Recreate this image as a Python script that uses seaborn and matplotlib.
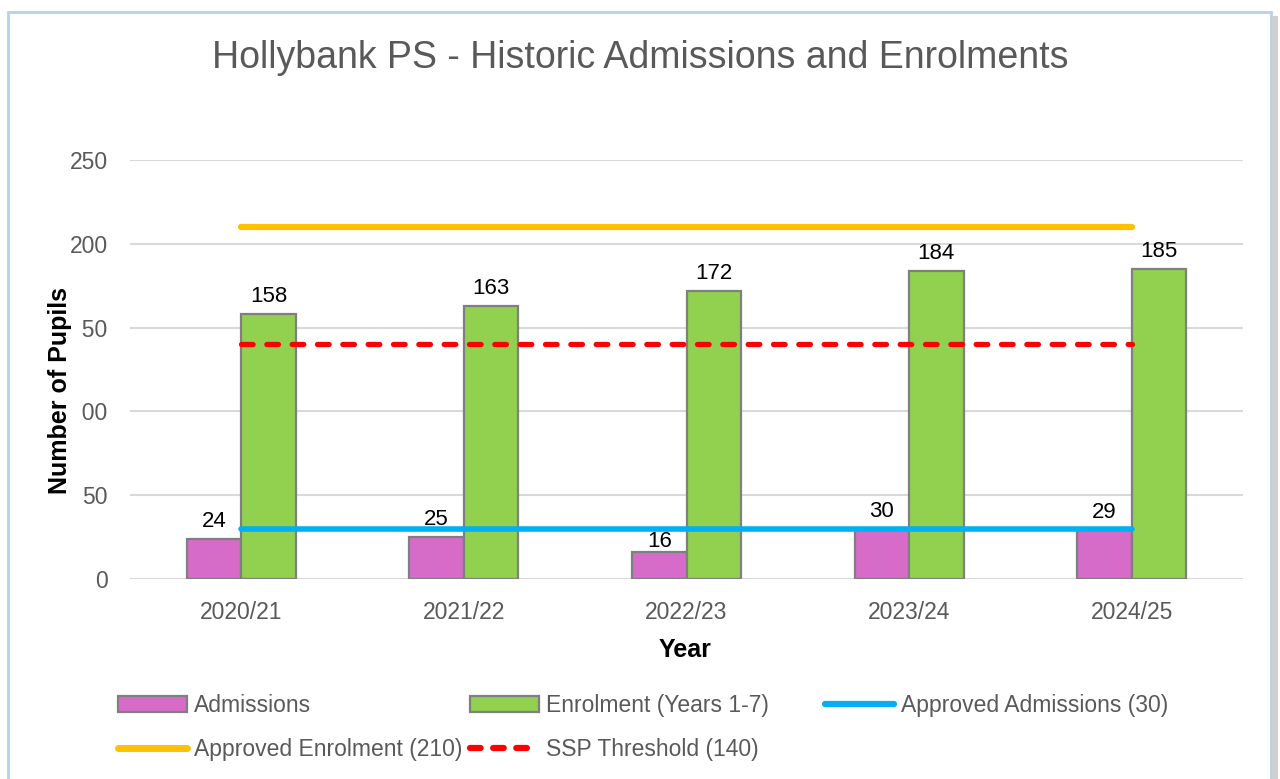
import pandas as pd
import matplotlib
matplotlib.use("Agg")
import matplotlib.pyplot as plt
import matplotlib.patches as mpatches
from matplotlib.lines import Line2D
import seaborn as sns

# Datos
years = ["2020/21", "2021/22", "2022/23", "2023/24", "2024/25"]
admissions = [24, 25, 16, 30, 29]
enrolment = [158, 163, 172, 184, 185]
approved_admissions = [30, 30, 30, 30, 30]
approved_enrolment = [210, 210, 210, 210, 210]
ssp_threshold = [140, 140, 140, 140, 140]

series = ["Admissions", "Enrolment (Years 1-7)"]
df = pd.DataFrame({
    "Year": years * 2,
    "Pupils": admissions + enrolment,
    "Series": [series[0]] * len(years) + [series[1]] * len(years),
})

sns.set_theme(style="white")
plt.rcParams["font.family"] = ["Liberation Sans", "DejaVu Sans"]

pink = "#D66CC8"
green = "#92D050"
blue = "#00B0F0"
gold = "#FFC000"
red = "#FF0000"
edge = "#7F7F7F"
grey_txt = "#595959"

fig = plt.figure(figsize=(12.8, 7.79), dpi=100)
ax = fig.add_axes([130 / 1280, 1 - 579 / 779, 1113 / 1280, 419 / 779])

sns.barplot(data=df, x="Year", y="Pupils", hue="Series", hue_order=series,
            palette=[pink, green], width=0.49, gap=0, edgecolor=edge,
            linewidth=1.6, legend=False, ax=ax, saturation=1)

for cont in ax.containers:
    labels = ax.bar_label(cont, padding=5, fontsize=16, color="black", zorder=6)
    # etiqueta pegada a la barra cuando queda bajo la linea azul
    for lbl, bar in zip(labels, cont):
        if approved_admissions[0] - bar.get_height() > 10:
            lbl.xyann = (0, 0)

# lineas de referencia
ax.plot(years, approved_admissions, color=blue, lw=4, solid_capstyle="round", zorder=4)
ax.plot(years, approved_enrolment, color=gold, lw=4.5, solid_capstyle="round", zorder=4)
ax.plot(years, ssp_threshold, color=red, lw=3.8, dashes=(2.2, 2.6),
        dash_capstyle="round", zorder=4)

ax.set_ylim(0, 250)
ax.set_xlim(-0.5, 4.5)
ax.set_yticks([0, 50, 100, 150, 200, 250])
ax.yaxis.grid(True, color="#D9D9D9", lw=1.5)
ax.set_axisbelow(True)
for s in ax.spines.values():
    s.set_visible(False)
ax.tick_params(axis="both", length=0, labelsize=16.5, labelcolor=grey_txt)
ax.tick_params(axis="y", pad=16)
ax.tick_params(axis="x", pad=16)

ax.set_xlabel("Year", fontsize=18, fontweight="bold", color="black")
ax.xaxis.set_label_coords(0.4987, -0.142)
ax.set_ylabel("Number of Pupils", fontsize=18, fontweight="bold", color="black",
              bbox=dict(boxstyle="square,pad=0.4", fc="white", ec="none"))
ax.yaxis.set_label_coords(-0.052, 0.451)

fig.text(0.5, 1 - 58 / 779, "Hollybank PS - Historic Admissions and Enrolments",
         ha="center", va="center", fontsize=27, color=grey_txt)

# leyenda en tres columnas
h_adm = mpatches.Patch(facecolor=pink, edgecolor=edge, lw=1.6, label="Admissions")
h_enr = mpatches.Patch(facecolor=green, edgecolor=edge, lw=1.6, label="Enrolment (Years 1-7)")
h_aad = Line2D([], [], color=blue, lw=4.5, solid_capstyle="round", label="Approved Admissions (30)")
h_aen = Line2D([], [], color=gold, lw=5, solid_capstyle="round", label="Approved Enrolment (210)")
h_ssp = Line2D([], [], color=red, lw=4.5, dashes=(1.7, 2.0), dash_capstyle="round",
               label="SSP Threshold (140)")

leg_kw = dict(loc="upper left", frameon=False, fontsize=16.5, borderpad=0,
              handlelength=3.0, handletextpad=0.3, labelspacing=0.92,
              labelcolor=grey_txt, borderaxespad=0)
y_leg = 1 - 694 / 779
fig.legend(handles=[h_adm, h_aen], bbox_to_anchor=(118 / 1280, y_leg), **leg_kw)
fig.legend(handles=[h_enr, h_ssp], bbox_to_anchor=(470 / 1280, y_leg), **leg_kw)
fig.legend(handles=[h_aad], bbox_to_anchor=(825 / 1280, y_leg), **leg_kw)

# borde de la tarjeta
fig.patches.append(mpatches.Rectangle((8 / 1280, -0.05), 1263 / 1280, 1.05 - 12 / 779,
                                      transform=fig.transFigure, fill=False,
                                      edgecolor="#B4D2EC", lw=2))
fig.patches.append(mpatches.Rectangle((1272 / 1280, -0.05), 6 / 1280, 1.05 - 16 / 779,
                                      transform=fig.transFigure, facecolor="#D0D0D0",
                                      edgecolor="none"))

fig.savefig("out.png", dpi=100)
